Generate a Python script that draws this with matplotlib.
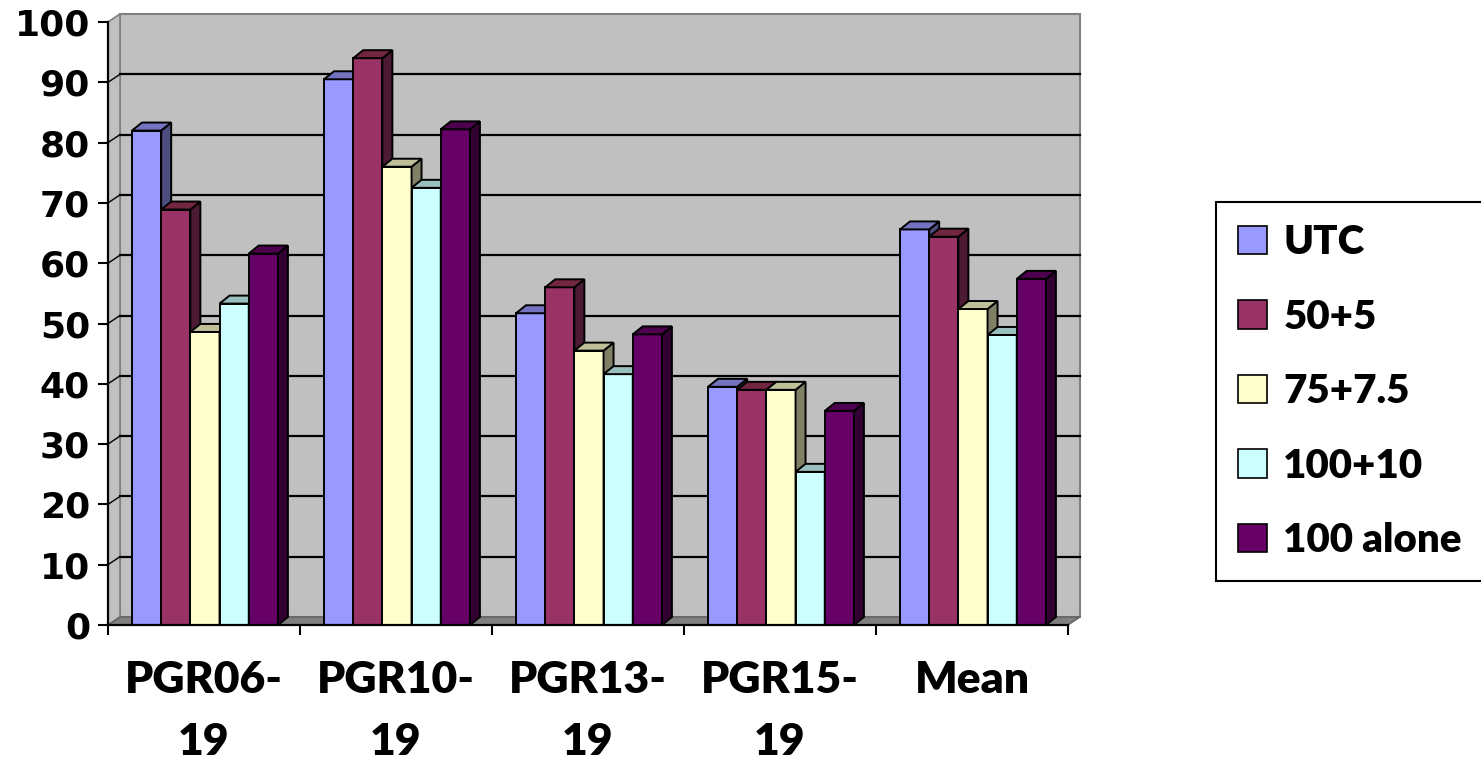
import matplotlib.pyplot as plt
from matplotlib.patches import Polygon, Rectangle
from matplotlib.patches import Patch

# Data
categories = ['PGR06-\n19', 'PGR10-\n19', 'PGR13-\n19', 'PGR15-\n19', 'Mean']
series = ['UTC', '50+5', '75+7.5', '100+10', '100 alone']

utc = [82.0, 90.5, 51.7, 39.5, 65.6]
t50 = [68.9, 94.0, 56.0, 39.0, 64.4]
t75 = [48.6, 76.0, 45.5, 39.0, 52.4]
t100 = [53.3, 72.5, 41.6, 25.4, 48.1]
alone = [61.6, 82.2, 48.2, 35.5, 57.4]
values = [utc, t50, t75, t100, alone]

yticks = list(range(0, 101, 10))

# Excel-like palette: front, right side, top
front = ['#9999FF', '#993366', '#FFFFCC', '#CCFFFF', '#660066']
side = ['#4D4D80', '#4D1A33', '#808066', '#668080', '#330033']
top = ['#7373BF', '#732640', '#BFBF99', '#99BFBF', '#4D004D']

W, H = 1481, 771
fig = plt.figure(figsize=(W / 100, H / 100), dpi=100)
ax = fig.add_axes([108 / W, 146 / H, 960 / W, 603 / H])
ax.set_xlim(0, 5)
ax.set_ylim(0, 100)
ax.set_facecolor('none')

# pixel depth -> data units
ux = 960 / 5
uy = 603 / 100
wdx, wdy = 12 / ux, 8 / uy
bdx, bdy = 10 / ux, 8 / uy

# walls and floor
ax.add_patch(Polygon([(wdx, wdy), (5 + wdx, wdy), (5 + wdx, 100 + wdy), (wdx, 100 + wdy)],
                     closed=True, fc='#C0C0C0', ec='#808080', lw=1.5, clip_on=False, zorder=0.5))
ax.add_patch(Polygon([(0, 0), (wdx, wdy), (wdx, 100 + wdy), (0, 100)],
                     closed=True, fc='#C0C0C0', ec='#808080', lw=1.2, clip_on=False, zorder=0.5))
ax.add_patch(Polygon([(0, 0), (5, 0), (5 + wdx, wdy), (wdx, wdy)],
                     closed=True, fc='#808080', ec='#606060', lw=1.0, clip_on=False, zorder=0.6))

for v in yticks[1:-1]:
    ax.plot([wdx, 5 + wdx], [v + wdy, v + wdy], color='black', lw=1.6, clip_on=False, zorder=0.8)
    ax.plot([0, wdx], [v, v + wdy], color='black', lw=1.0, clip_on=False, zorder=0.8)

# 3D-style columns
bw = 0.152
for i in range(len(categories)):
    for j in range(len(series)):
        x0 = i + 0.125 + j * bw
        h = values[j][i]
        ax.add_patch(Rectangle((x0, 0), bw, h, fc=front[j], ec='black', lw=1.4,
                               clip_on=False, zorder=2))
        ax.add_patch(Polygon([(x0 + bw, 0), (x0 + bw + bdx, bdy), (x0 + bw + bdx, h + bdy), (x0 + bw, h)],
                             closed=True, fc=side[j], ec='black', lw=1.4, clip_on=False, zorder=2))
        ax.add_patch(Polygon([(x0, h), (x0 + bdx, h + bdy), (x0 + bw + bdx, h + bdy), (x0 + bw, h)],
                             closed=True, fc=top[j], ec='black', lw=1.4, clip_on=False, zorder=2))

# axes
for s in ['top', 'right']:
    ax.spines[s].set_visible(False)
for s in ['left', 'bottom']:
    ax.spines[s].set_linewidth(1.6)
    ax.spines[s].set_zorder(3)

ax.set_yticks(yticks)
ax.set_yticklabels([str(t) for t in yticks], fontfamily='DejaVu Sans', fontweight='heavy', fontsize=26)
ax.tick_params(axis='y', length=7, width=1.5, pad=6)

ax.set_xticks([i + 0.5 for i in range(len(categories))])
ax.set_xticklabels(categories, fontfamily='Lato', fontweight='heavy', fontsize=32, linespacing=1.68)
ax.set_xticks(range(len(categories) + 1), minor=True)
ax.tick_params(axis='x', which='major', length=0, pad=25)
ax.tick_params(axis='x', which='minor', length=7, width=1.5)

handles = [Patch(fc=front[j], ec='black', lw=1.2) for j in range(len(series))]
leg = fig.legend(handles, series, loc='upper left', bbox_to_anchor=(1216 / W, 1 - 202 / H),
                 prop={'family': 'Lato', 'weight': 'heavy', 'size': 29},
                 frameon=True, fancybox=False, edgecolor='black', framealpha=1,
                 handlelength=0.72, handleheight=0.72, handletextpad=0.4,
                 borderpad=0.55, labelspacing=0.93, borderaxespad=0)
leg.get_frame().set_linewidth(1.5)

fig.savefig('out.png', dpi=100)
